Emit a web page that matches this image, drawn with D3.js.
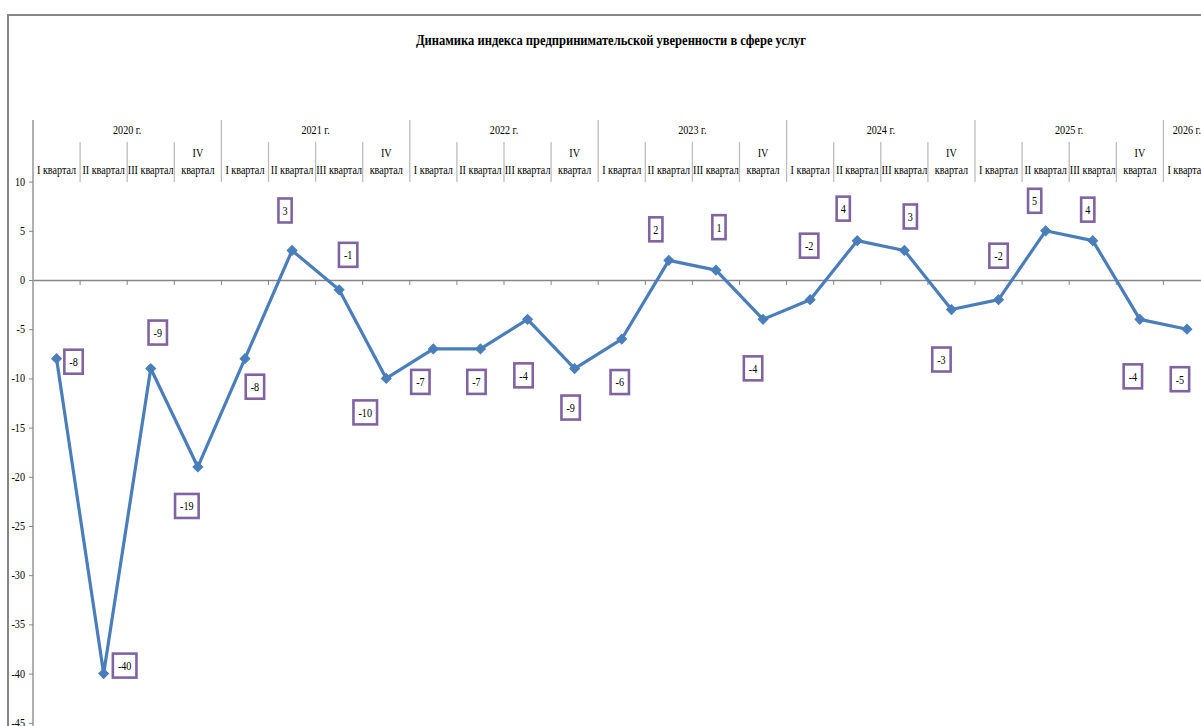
<!DOCTYPE html>
<html lang="ru">
<head>
<meta charset="utf-8">
<script src="https://cdn.jsdelivr.net/npm/d3@7"></script>
<style>
  html, body { margin: 0; padding: 0; background: #fff; overflow: hidden; }
  svg { display: block; font-family: "Liberation Serif", "Times New Roman", serif; }
</style>
</head>
<body>
<svg id="chart" width="1201" height="726"></svg>
<script>
// Индекс предпринимательской уверенности в сфере услуг, по кварталам
const title = "Динамика индекса предпринимательской уверенности в сфере услуг";
const years = ["2020 г.", "2021 г.", "2022 г.", "2023 г.", "2024 г.", "2025 г.", "2026 г."];
const quarterNames = [["I квартал"], ["II квартал"], ["III квартал"], ["IV", "квартал"]];
const values = [-8, -40, -9, -19, -8, 3, -1, -10, -7, -7, -4, -9, -6, 2, 1, -4, -2, 4, 3, -3, -2, 5, 4, -4, -5];
const yTicks = [10, 5, 0, -5, -10, -15, -20, -25, -30, -35, -40, -45];

// hand-placed data label offsets from each marker, px [dx, dy]
const labelOffsets = [
  [17, 3], [21, -8], [7, -36], [-11, 39], [10, 28], [-7, -40], [9, -35], [-21, 34],
  [-13, 33], [-4, 33], [-4, 56], [-4, 39], [-2, 43], [-13, -31], [3, -43], [-10, 49],
  [-1, -54], [-14, -32], [6, -34], [-10, 50], [0, -44], [-11, -30], [-5, -31], [-7, 57], [-7, 50]
];

const axisColor = "#868686";
const lineColor = "#4A7EBB";
const labelBorder = "#8064A2";
const squeeze = 0.78;   // narrow serif look

const svg = d3.select("#chart");

const plotLeft = 33, step = 47.1;
const x = d3.scaleBand()
  .domain(d3.range(values.length))
  .range([plotLeft, plotLeft + step * values.length])
  .padding(0);
const y = d3.scaleLinear().domain([-45, 10]).range([722.8, 181.6]);

function narrowText(g, str, tx, ty, opts = {}) {
  return g.append("text")
    .attr("transform", `translate(${tx},${ty}) scale(${opts.sx || squeeze},1)`)
    .attr("text-anchor", opts.anchor || "middle")
    .attr("dominant-baseline", "central")
    .attr("font-size", opts.size || 13)
    .attr("font-weight", opts.weight || "normal")
    .attr("fill", opts.fill || "#000")
    .text(str);
}

// chart frame
svg.append("rect")
  .attr("x", 8).attr("y", 15)
  .attr("width", 1220).attr("height", 740)
  .attr("fill", "none").attr("stroke", axisColor).attr("stroke-width", 2);

// title
svg.append("text")
  .attr("x", 611).attr("y", 40)
  .attr("text-anchor", "middle")
  .attr("dominant-baseline", "central")
  .attr("font-size", 14.5)
  .attr("font-weight", "bold")
  .attr("textLength", 390)
  .attr("lengthAdjust", "spacingAndGlyphs")
  .text(title);

// value axis
const yAxis = svg.append("g")
  .attr("transform", `translate(${plotLeft},0)`)
  .call(d3.axisLeft(y).tickValues(yTicks).tickSize(4).tickFormat(""));
yAxis.select(".domain").remove();
yAxis.selectAll(".tick line").attr("stroke", axisColor);
svg.append("line")
  .attr("x1", plotLeft).attr("x2", plotLeft)
  .attr("y1", 120).attr("y2", 726)
  .attr("stroke", axisColor).attr("stroke-width", 1.3);
const yLab = svg.append("g");
yTicks.forEach(t => narrowText(yLab, String(t), 25, y(t), { anchor: "end" }));

// category axis along zero with boundary ticks
const xAxis = svg.append("g")
  .attr("transform", `translate(0,${y(0)})`)
  .call(d3.axisBottom(x).tickSize(0).tickFormat(""));
xAxis.select(".domain").attr("stroke", axisColor).attr("stroke-width", 1.3);
const boundaries = d3.range(1, values.length + 1).map(i => plotLeft + x.bandwidth() * i);
svg.append("g").selectAll("line").data(boundaries).join("line")
  .attr("x1", d => d).attr("x2", d => d)
  .attr("y1", y(0)).attr("y2", y(0) + 5)
  .attr("stroke", axisColor);

// multi-level category labels placed above the plot
const header = svg.append("g");
values.forEach((v, i) => {
  const cx = x(i) + x.bandwidth() / 2;
  const q = quarterNames[i % 4];
  if (q.length === 1) {
    narrowText(header, q[0], cx, 170);
  } else {
    narrowText(header, q[0], cx, 153);
    narrowText(header, q[1], cx, 170);
  }
  if (i % 4 !== 0) {
    header.append("line")
      .attr("x1", x(i)).attr("x2", x(i))
      .attr("y1", 142).attr("y2", 182)
      .attr("stroke", "#bdbdbd").attr("stroke-width", 1.3);
  }
});
years.forEach((yr, k) => {
  const first = k * 4;
  const last = Math.min(first + 3, values.length - 1);
  const x0 = x(first), x1 = x(last) + x.bandwidth();
  narrowText(header, yr, (x0 + x1) / 2, 130);
  if (k > 0) {
    header.append("line")
      .attr("x1", x0).attr("x2", x0)
      .attr("y1", 120).attr("y2", 182)
      .attr("stroke", "#bdbdbd").attr("stroke-width", 1.3);
  }
});

// series line
const px = i => x(i) + x.bandwidth() / 2;
svg.append("path")
  .datum(values)
  .attr("fill", "none")
  .attr("stroke", lineColor)
  .attr("stroke-width", 3.2)
  .attr("stroke-linejoin", "round")
  .attr("d", d3.line().x((d, i) => px(i)).y(d => y(d)));

// diamond markers
const diamond = d3.symbol(d3.symbolSquare, 48);
svg.append("g").selectAll("path").data(values).join("path")
  .attr("d", diamond)
  .attr("transform", (d, i) => `translate(${px(i)},${y(d)}) rotate(45)`)
  .attr("fill", lineColor)
  .attr("stroke", lineColor)
  .attr("stroke-width", 1);

// boxed data labels
const labels = svg.append("g");
values.forEach((v, i) => {
  const [dx, dy] = labelOffsets[i];
  const cx = px(i) + dx, cy = y(v) + dy;
  const txt = String(v);
  const w = 8 + txt.length * 5.2;
  labels.append("rect")
    .attr("x", cx - w / 2).attr("y", cy - 12)
    .attr("width", w).attr("height", 24)
    .attr("fill", "#fff")
    .attr("stroke", labelBorder)
    .attr("stroke-width", 2.6);
  narrowText(labels, txt, cx, cy + 0.5);
});
</script>
</body>
</html>
